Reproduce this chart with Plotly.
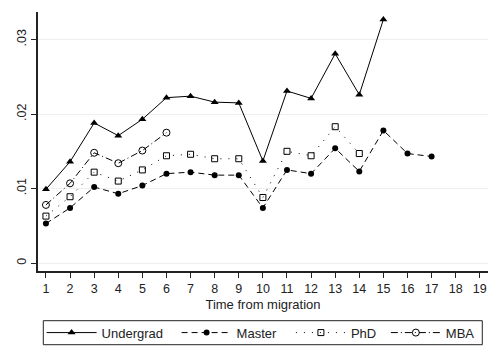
import plotly.graph_objects as go

years = list(range(1, 20))
tick_vals = list(range(1, 20))
y_ticks = [0, 0.01, 0.02, 0.03]
y_tick_text = ["0", ".01", ".02", ".03"]

undergrad = [0.0099, 0.0136, 0.0188, 0.0171, 0.0193, 0.0222, 0.0224, 0.0216, 0.0215,
             0.0137, 0.0231, 0.0221, 0.0281, 0.0226, 0.0327]
master = [0.0053, 0.0074, 0.0102, 0.0093, 0.0104, 0.0120, 0.0122, 0.0118, 0.0118,
          0.0074, 0.0125, 0.0120, 0.0154, 0.0123, 0.0178, 0.0147, 0.0143]
phd = [0.0063, 0.0089, 0.0122, 0.0110, 0.0125, 0.0144, 0.0146, 0.0140, 0.0140,
       0.0088, 0.0150, 0.0144, 0.0183, 0.0147]
mba = [0.0078, 0.0107, 0.0148, 0.0134, 0.0151, 0.0175]

font = "Liberation Sans, Arial, sans-serif"
fig = go.Figure()
fig.add_trace(go.Scatter(x=years[:len(undergrad)], y=undergrad, name="Undergrad",
                         mode="lines+markers", legend="legend",
                         line=dict(color="black", width=1),
                         marker=dict(symbol="triangle-up", size=7, color="black")))
fig.add_trace(go.Scatter(x=years[:len(master)], y=master, name="Master",
                         mode="lines+markers", legend="legend2",
                         line=dict(color="black", width=1, dash="6px,4px"),
                         marker=dict(symbol="circle", size=6, color="black")))
fig.add_trace(go.Scatter(x=years[:len(phd)], y=phd, name="PhD",
                         mode="lines+markers", legend="legend3",
                         line=dict(color="black", width=1, dash="1px,7px"),
                         marker=dict(symbol="square-open", size=6, color="black",
                                     line=dict(width=1))))
fig.add_trace(go.Scatter(x=years[:len(mba)], y=mba, name="MBA",
                         mode="lines+markers", legend="legend4",
                         line=dict(color="black", width=1, dash="7px,3px,1px,3px"),
                         marker=dict(symbol="circle-open", size=7, color="black",
                                     line=dict(width=1))))

def leg(x):
    return dict(orientation="h", x=x, y=-0.238, xanchor="left", yanchor="middle",
                borderwidth=0, bgcolor="rgba(0,0,0,0)", font=dict(size=13),
                itemwidth=50)

fig.update_layout(
    width=500, height=362,
    margin=dict(l=38, r=12, t=12, b=91, autoexpand=False),
    paper_bgcolor="white", plot_bgcolor="white",
    font=dict(family=font, size=12, color="#222"),
    showlegend=True,
    legend=leg(0.008),
    legend2=leg(0.308),
    legend3=leg(0.562),
    legend4=leg(0.773),
    shapes=[dict(type="rect", xref="paper", yref="paper",
                 x0=0.0118, x1=0.9873, y0=-0.2846, y1=-0.1919,
                 line=dict(color="#222", width=1), fillcolor="rgba(0,0,0,0)")],
    xaxis=dict(range=[0.67, 19.34], tickvals=tick_vals, showgrid=False,
               showline=True, linecolor="#222", linewidth=1.5,
               ticks="outside", ticklen=5, tickcolor="#222",
               zeroline=False, tickfont=dict(size=12.5),
               title=dict(text="Time from migration", standoff=5,
                          font=dict(size=13))),
    yaxis=dict(range=[-0.00107, 0.0337], tickvals=y_ticks, ticktext=y_tick_text,
               tickangle=-90, showgrid=True, gridcolor="#eeeeee", gridwidth=1,
               showline=True, linecolor="#222", linewidth=1.5, tickfont=dict(size=12.5),
               ticks="outside", ticklen=5, tickcolor="#222", zeroline=False),
)
fig.write_html("out.html", post_script="document.body.style.margin='0';",
               config={"displayModeBar": False})
